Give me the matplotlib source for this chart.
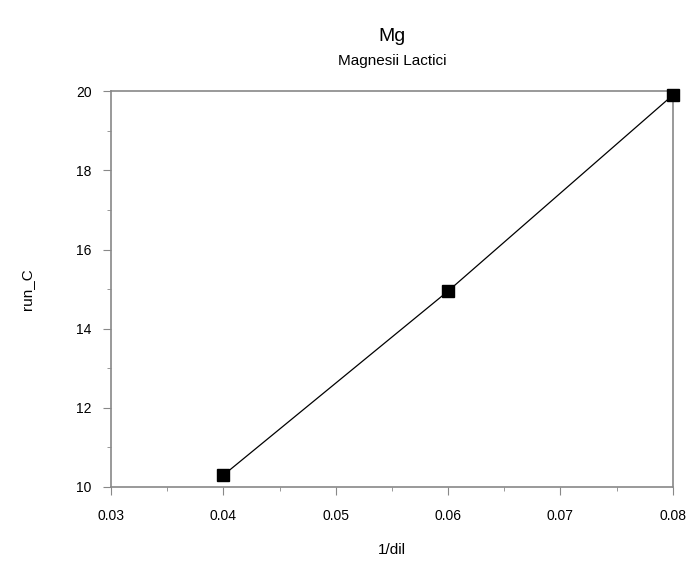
import matplotlib
matplotlib.use('Agg')
import matplotlib.pyplot as plt
from matplotlib.ticker import MultipleLocator

# data
inv_dil = [0.04, 0.06, 0.08]
run_c = [10.3, 14.95, 19.9]
x_ticks = [0.03, 0.04, 0.05, 0.06, 0.07, 0.08]
x_labels = ['0.03', '0.04', '0.05', '0.06', '0.07', '0.08']
y_ticks = [10, 12, 14, 16, 18, 20]

plt.rcParams['font.family'] = ['Liberation Sans', 'DejaVu Sans']

fig = plt.figure(figsize=(6.9, 5.63), dpi=100)
ax = fig.add_axes([0.161, 0.135, 0.814, 0.703])

ax.plot(inv_dil, run_c, color='black', linewidth=0.9, marker='s',
        markersize=8, markerfacecolor='black', markeredgecolor='black',
        clip_on=False, zorder=3)

ax.set_xlim(0.03, 0.08)
ax.set_ylim(10, 20)
ax.set_xticks(x_ticks)
ax.set_xticklabels(x_labels)
ax.set_yticks(y_ticks)
ax.xaxis.set_minor_locator(MultipleLocator(0.005))
ax.yaxis.set_minor_locator(MultipleLocator(1))

for side in ['left', 'right', 'top', 'bottom']:
    ax.spines[side].set_color('#888888')
    ax.spines[side].set_linewidth(1.2)

ax.tick_params(which='both', direction='out', color='#888888', labelsize=10)
ax.tick_params(which='major', length=6)
ax.tick_params(which='minor', length=3)
ax.tick_params(axis='x', pad=10)
ax.tick_params(axis='y', pad=8)

ax.set_xlabel('1/dil', fontsize=11, labelpad=14)
ax.set_ylabel('run_C', fontsize=11, labelpad=30)

fig.text(0.568, 0.935, 'Mg', ha='center', va='center', fontsize=14)
fig.text(0.568, 0.892, 'Magnesii Lactici', ha='center', va='center', fontsize=11)

fig.savefig('out.png', dpi=100)
